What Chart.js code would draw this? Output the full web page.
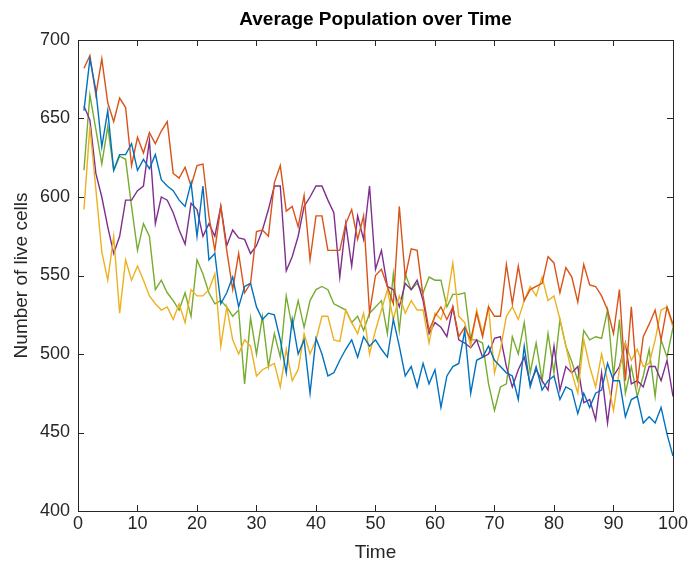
<!DOCTYPE html>
<html>
<head>
<meta charset="utf-8">
<script src="https://cdn.jsdelivr.net/npm/chart.js@4.4.1/dist/chart.umd.min.js"></script>
<style>
  body { margin: 0; background: #fff; }
  #wrap { width: 690px; height: 564px; }
</style>
</head>
<body>
<div id="wrap"><canvas id="popChart" width="690" height="564"></canvas></div>
<script>
// time steps 1..100
const timeSteps = Array.from({ length: 100 }, (_, i) => i + 1);

const blueRun = [
    655, 688, 668, 632, 655, 617, 627, 627, 634, 617,
    624, 618, 627, 611, 607, 604, 598, 594, 609, 575,
    607, 560, 564, 532, 539, 549, 530, 543, 545, 530,
    522, 526, 525, 509, 488, 522, 500, 509, 475, 510,
    500, 486, 488, 496, 503, 509, 498, 511, 505, 509,
    503, 498, 522, 505, 486, 492, 479, 494, 481, 490,
    466, 486, 492, 494, 515, 475, 496, 498, 505, 496,
    492, 488, 486, 471, 505, 479, 492, 477, 483, 486,
    471, 479, 477, 462, 475, 466, 475, 477, 494, 483,
    483, 460, 471, 473, 456, 460, 456, 466, 449, 435
];
const orangeRun = [
    682, 690, 665, 688, 660, 648, 663, 657, 620, 638,
    628, 641, 634, 642, 648, 615, 612, 619, 607, 620,
    621, 588, 566, 594, 566, 541, 564, 539, 545, 578,
    579, 575, 609, 620, 591, 594, 581, 601, 560, 588,
    588, 566, 566, 566, 583, 592, 573, 588, 526, 550,
    554, 543, 532, 594, 549, 567, 566, 537, 515, 524,
    530, 522, 530, 511, 517, 509, 526, 511, 530, 524,
    524, 557, 532, 556, 534, 541, 543, 545, 562, 558,
    539, 555, 549, 533, 557, 544, 543, 537, 528, 513,
    541, 483, 530, 481, 511, 519, 528, 509, 530, 519
];
const yellowRun = [
    592, 645, 605, 565, 547, 575, 526, 560, 547, 556,
    547, 537, 532, 528, 530, 522, 532, 520, 541, 537,
    537, 541, 551, 505, 530, 509, 500, 509, 505, 486,
    490, 492, 494, 479, 503, 483, 490, 513, 500, 509,
    524, 524, 509, 508, 528, 520, 513, 526, 500, 515,
    528, 541, 522, 537, 526, 534, 528, 528, 507, 526,
    522, 534, 558, 524, 520, 505, 528, 513, 530, 488,
    503, 524, 530, 522, 534, 543, 537, 549, 534, 537,
    522, 505, 488, 475, 509, 492, 479, 500, 483, 464,
    490, 507, 496, 503, 492, 494, 509, 528, 530, 517
];
const purpleRun = [
    658, 649, 615, 600, 581, 564, 575, 598, 598, 604,
    607, 636, 583, 600, 598, 590, 579, 570, 596, 592,
    575, 583, 575, 594, 569, 579, 574, 573, 564, 569,
    579, 592, 607, 607, 553, 562, 575, 594, 600, 607,
    607, 598, 590, 549, 583, 556, 588, 573, 607, 554,
    566, 543, 541, 530, 545, 541, 547, 534, 513, 520,
    517, 511, 530, 509, 507, 504, 509, 498, 500, 510,
    511, 492, 479, 490, 498, 481, 490, 483, 477, 505,
    477, 492, 488, 492, 469, 471, 458, 488, 456, 486,
    492, 507, 481, 483, 479, 492, 492, 483, 496, 473
];
const greenRun = [
    617, 665, 643, 621, 645, 617, 626, 624, 594, 566,
    583, 575, 541, 547, 539, 534, 528, 539, 524, 560,
    551, 539, 532, 534, 530, 524, 528, 481, 523, 500,
    524, 492, 513, 498, 537, 517, 534, 517, 534, 541,
    543, 541, 532, 530, 528, 520, 524, 515, 526, 530,
    534, 513, 551, 515, 551, 541, 545, 539, 549, 547,
    547, 530, 538, 538, 539, 509, 509, 507, 481, 464,
    479, 481, 511, 500, 520, 488, 507, 483, 513, 488,
    522, 505, 495, 483, 515, 509, 511, 510, 528, 486,
    522, 475, 492, 473, 486, 503, 473, 509, 498, 517
];

const xTicks = [0, 10, 20, 30, 40, 50, 60, 70, 80, 90, 100];
const yTicks = [400, 450, 500, 550, 600, 650, 700];

const chartTitle = 'Average Population over Time';
const axisColor = '#262626';
const fontFamily = 'Liberation Sans, Arial, Helvetica, sans-serif';

function makeSeries(values, color) {
    return {
        data: values.map((v, i) => ({ x: timeSteps[i], y: v })),
        borderColor: color,
        borderWidth: 1.4,
        pointRadius: 0,
        fill: false,
        tension: 0
    };
}

// MATLAB style box with inward ticks, title centred over the axes
const boxPlugin = {
    id: 'boxPlugin',
    afterDraw(chart) {
        const ctx = chart.ctx;
        const a = chart.chartArea;
        const xs = chart.scales.x;
        const ys = chart.scales.y;
        ctx.save();
        ctx.strokeStyle = axisColor;
        ctx.lineWidth = 1;
        ctx.strokeRect(a.left + 0.5, a.top + 0.5, a.right - a.left, a.bottom - a.top);
        ctx.beginPath();
        xTicks.forEach(t => {
            const px = Math.round(xs.getPixelForValue(t)) + 0.5;
            ctx.moveTo(px, a.bottom);
            ctx.lineTo(px, a.bottom - 6);
            ctx.moveTo(px, a.top);
            ctx.lineTo(px, a.top + 6);
        });
        yTicks.forEach(t => {
            const py = Math.round(ys.getPixelForValue(t)) + 0.5;
            ctx.moveTo(a.left, py);
            ctx.lineTo(a.left + 6, py);
            ctx.moveTo(a.right, py);
            ctx.lineTo(a.right - 6, py);
        });
        ctx.stroke();

        ctx.fillStyle = '#000';
        ctx.font = 'bold 19px ' + fontFamily;
        ctx.textAlign = 'center';
        ctx.textBaseline = 'middle';
        ctx.fillText(chartTitle, (a.left + a.right) / 2, 20);
        ctx.restore();
    }
};

new Chart(document.getElementById('popChart').getContext('2d'), {
    type: 'line',
    data: {
        datasets: [
            makeSeries(blueRun, '#0072BD'),
            makeSeries(orangeRun, '#D95319'),
            makeSeries(yellowRun, '#EDB120'),
            makeSeries(purpleRun, '#7E2F8E'),
            makeSeries(greenRun, '#77AC30')
        ]
    },
    options: {
        responsive: false,
        animation: false,
        layout: { padding: { top: 40, right: 14, bottom: 0, left: 0 } },
        plugins: {
            legend: { display: false },
            tooltip: { enabled: false },
            title: { display: false }
        },
        scales: {
            x: {
                type: 'linear',
                min: 0,
                max: 100,
                afterBuildTicks: scale => { scale.ticks = xTicks.map(v => ({ value: v })); },
                afterFit: scale => { scale.height = 53; },
                grid: { display: false, drawTicks: false, tickLength: 0 },
                border: { display: false },
                ticks: {
                    color: axisColor,
                    padding: 2,
                    maxRotation: 0,
                    font: { family: fontFamily, size: 18 }
                },
                title: {
                    display: true,
                    text: 'Time',
                    color: axisColor,
                    padding: { top: 0, bottom: 0 },
                    font: { family: fontFamily, size: 19 }
                }
            },
            y: {
                min: 400,
                max: 700,
                afterBuildTicks: scale => { scale.ticks = yTicks.map(v => ({ value: v })); },
                afterFit: scale => { scale.width = 78; },
                grid: { display: false, drawTicks: false, tickLength: 0 },
                border: { display: false },
                ticks: {
                    color: axisColor,
                    padding: 8,
                    font: { family: fontFamily, size: 18 }
                },
                title: {
                    display: true,
                    text: 'Number of live cells',
                    color: axisColor,
                    padding: { top: 10, bottom: 0 },
                    font: { family: fontFamily, size: 19 }
                }
            }
        }
    },
    plugins: [boxPlugin]
});
</script>
</body>
</html>
